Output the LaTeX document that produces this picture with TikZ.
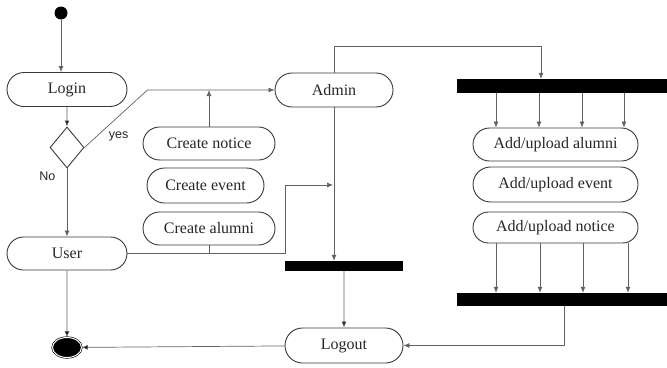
\documentclass[tikz,border=0pt]{standalone}
\usepackage{fontspec}
\setmainfont{Liberation Serif}
\newfontfamily\notefont{Liberation Sans}
\usetikzlibrary{shapes.misc,shapes.geometric,arrows.meta}

\definecolor{boxline}{gray}{0.22}
\definecolor{flowline}{gray}{0.38}
\def\tip{{Latex[length=6pt,width=5pt]}}
\tikzstyle{activity}=[draw=boxline,rounded rectangle,line width=0.9pt,
                  text=black!85,font=\fontsize{16}{19}\selectfont,
                  minimum width=118pt,minimum height=34pt,inner sep=0pt]
\tikzstyle{bar}=[fill=black,inner sep=0pt]
\tikzstyle{decision}=[draw=boxline,diamond,line width=0.9pt,inner sep=0pt,
                  minimum width=34pt,minimum height=41pt]
\tikzstyle{initial}=[fill=black,circle,inner sep=0pt,minimum size=13pt]
\tikzstyle{final}=[draw=black,fill=black,ellipse,line width=0.6pt,
                  double=white,double distance=1pt,inner sep=0pt,
                  minimum width=29pt,minimum height=20pt]
\tikzstyle{flow}=[draw=flowline,line width=0.7pt,-\tip]
\tikzstyle{link}=[draw=flowline,line width=0.7pt]
\tikzstyle{note}=[font=\notefont\fontsize{12.5}{15}\selectfont,text=black!85]

\begin{document}
\begin{tikzpicture}[x=1pt,y=-1pt]
  \useasboundingbox (0,0) rectangle (667,367);
  % Place start, login and choice
  \node[initial] (start) at (61,13) {};
  \node[activity,minimum width=120pt] (login) at (67,89.5) {Login};
  \node[decision] (choice) at (67,147.5) {};
  \node[activity,minimum width=120pt,minimum height=33pt] (user) at (67,253.5) {User};
  \node[final] (end) at (67,347.5) {};

  % User actions
  \node[activity,minimum width=132pt,minimum height=33pt] (cnotice) at (209,143.5) {Create notice};
  \node[activity,minimum width=117pt,minimum height=35pt] (cevent) at (205.5,185.5) {Create event};
  \node[activity,minimum width=132pt,minimum height=33pt] (calumni) at (209,228.5) {Create alumni};

  % Admin side
  \node[activity] (admin) at (334,90) {Admin};
  \node[bar,minimum width=118pt,minimum height=10pt] (join) at (344,266) {};
  \node[activity,minimum height=35pt] (logout) at (344,345.5) {Logout};
  \coordinate (tap) at (333,185);

  \node[bar,minimum width=210pt,minimum height=14pt] (fork) at (562,86) {};
  \node[activity,minimum width=165pt,minimum height=33pt] (aalumni) at (555.5,144.5) {Add/upload alumni};
  \node[activity,minimum width=165pt,minimum height=35pt] (aevent) at (555.5,184.5) {Add/upload event};
  \node[activity,minimum width=165pt,minimum height=31pt] (anotice) at (555.5,227.5) {Add/upload notice};
  \node[bar,minimum width=210pt,minimum height=13pt] (merge) at (562,299.5) {};

  \draw[flow] (start) -- (start |- login.north);
  \path[flow] (login) edge (choice);
  \draw[flow] (choice.south) -- node[note,pos=0.12,left=8pt] {No} (user.north);
  \draw[flow] (choice.east) -- node[note,pos=0.33,below right] {yes} ++(63,-57.5) -- (admin.west);
  \draw[flow] (cnotice.north) -- (cnotice.north |- admin.west);
  \draw[flow] (user.east) -- ++(158,0) |- (tap);
  \draw[link] (calumni.south) -- (calumni.south |- user.east);
  \draw[flow] (admin.south) -- (admin.south |- join.north);
  \draw[flow] (admin.north) -- ++(0,-26) -| ([xshift=-21pt]fork.north);
  \foreach \x in {496,539,582,624}
    \draw[flow] (\x,0 |- fork.south) -- (\x,0 |- aalumni.north);
  \foreach \x in {496,540,583,628}
    \draw[flow] (\x,0 |- anotice.south) -- (\x,0 |- merge.north);
  \draw[flow] ([xshift=2pt]merge.south) |- (logout.east);
  \path[flow] (join) edge (logout);
  \path[flow] (user) edge (end);
  \path[flow] (logout) edge (end);

\end{tikzpicture}
\end{document}
